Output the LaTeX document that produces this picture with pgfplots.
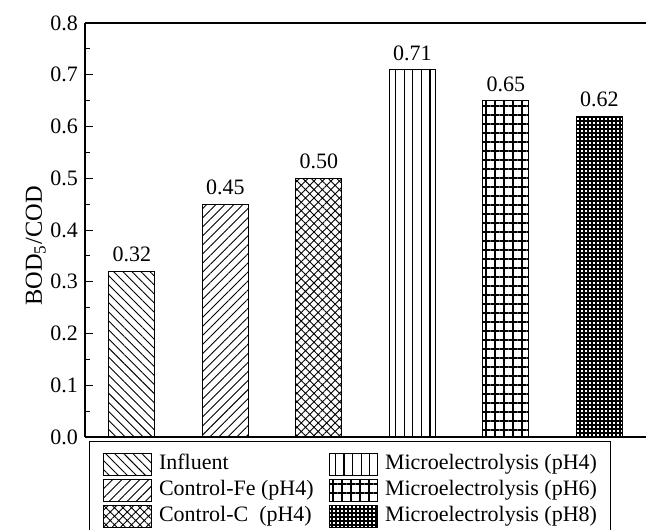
\documentclass[border=0pt]{standalone}
\usepackage{fontspec}
\setmainfont{Liberation Serif}
\usepackage{pgfplots}
\pgfplotsset{compat=1.18}
\usetikzlibrary{patterns,patterns.meta}

\tikzset{
  hatchNW/.style={pattern={Lines[angle=-45,distance=3.2pt,line width=0.45pt]}},
  hatchNE/.style={pattern={Lines[angle=45,distance=3.2pt,line width=0.45pt]}},
  hatchX/.style={pattern={Hatch[angle=45,distance=3pt,line width=0.45pt]}},
  hatchV/.style={pattern={Lines[angle=90,distance=4.3pt,line width=0.55pt]}},
  % grids are built from two crossing line patterns
  gridV/.style={pattern={Lines[angle=90,distance=4.5pt,line width=0.55pt]}},
  gridH/.style={pattern={Lines[angle=0,distance=4.5pt,line width=0.55pt]}},
  fineV/.style={pattern={Lines[angle=90,distance=2pt,line width=0.55pt]}},
  fineH/.style={pattern={Lines[angle=0,distance=2pt,line width=0.55pt]}},
}
% fixed-width first legend column
\newcommand{\colA}[1]{\hspace{3.5pt}\makebox[85pt][l]{#1}}
\newcommand{\colB}[1]{\hspace{3.5pt}#1\hspace{2.6pt}}

\begin{document}
\begin{tikzpicture}
\begin{axis}[
  name=ax,
  scale only axis,
  width=280.5pt, height=207pt,
  xmin=-0.5, xmax=5.5,
  ymin=0, ymax=0.8,
  ytick={0,0.1,...,0.8},
  minor y tick num=1,
  xtick=\empty,
  axis lines=left,
  axis line style={-, line width=0.6pt},
  tick style={black, line width=0.5pt},
  major tick length=4pt, minor tick length=2.5pt,
  tick align=inside,
  font=\fontsize{11}{13}\selectfont,
  /pgf/number format/assume math mode=true,
  yticklabel style={/pgf/number format/fixed, /pgf/number format/fixed zerofill, /pgf/number format/precision=1},
  ylabel={BOD\textsubscript{5}/COD},
  ylabel style={font=\fontsize{12.2}{14}\selectfont, xshift=-8pt, yshift=-4.5pt},
  ybar, bar width=23pt, bar shift=0pt,
  nodes near coords,
  every node near coord/.append style={font=\fontsize{11}{13}\selectfont,
    /pgf/number format/fixed, /pgf/number format/fixed zerofill, /pgf/number format/precision=2,
    yshift=1pt},
  legend columns=2,
  legend cell align=left,
  legend style={at={(axis description cs:0.0068,-0.009)}, anchor=north west,
    draw=black, line width=0.5pt, font=\fontsize{11}{13}\selectfont,
    inner xsep=6.85pt, inner ysep=5.25pt,
    nodes={inner sep=0pt, text height=9pt, text depth=4pt},
    column sep=0pt, row sep=0pt},
  legend image code/.code={\draw[#1, line width=0.5pt] (0pt,-5.5pt) rectangle (24pt,5.5pt);},
]
% bars, one series per treatment
\addplot[draw=black, line width=0.5pt, hatchNW, forget plot] coordinates {(0,0.32)};
\addplot[draw=black, line width=0.5pt, hatchNE, forget plot] coordinates {(1,0.45)};
\addplot[draw=black, line width=0.5pt, hatchX, forget plot] coordinates {(2,0.50)};
\addplot[draw=black, line width=0.5pt, hatchV, forget plot] coordinates {(3,0.71)};
\addplot[draw=black, line width=0.5pt, gridV, forget plot] coordinates {(4,0.65)};
\addplot[draw=black, line width=0.5pt, gridH, forget plot, nodes near coords={}] coordinates {(4,0.65)};
\addplot[draw=black, line width=0.5pt, fineV, forget plot] coordinates {(5,0.62)};
\addplot[draw=black, line width=0.5pt, fineH, forget plot, nodes near coords={}] coordinates {(5,0.62)};
% legend entries, listed row by row
\addlegendimage{draw=black, hatchNW}
\addlegendentry{\colA{Influent}}
\addlegendimage{draw=black, hatchV}
\addlegendentry{\colB{Microelectrolysis (pH4)}}
\addlegendimage{draw=black, hatchNE}
\addlegendentry{\colA{Control-Fe (pH4)}}
\addlegendimage{legend image code/.code={
  \path[gridV] (0pt,-5.5pt) rectangle (24pt,5.5pt);
  \draw[gridH, line width=0.5pt] (0pt,-5.5pt) rectangle (24pt,5.5pt);}}
\addlegendentry{\colB{Microelectrolysis (pH6)}}
\addlegendimage{draw=black, hatchX}
\addlegendentry{\colA{Control-C\ \ (pH4)}}
\addlegendimage{legend image code/.code={
  \path[fineV] (0pt,-5.5pt) rectangle (24pt,5.5pt);
  \draw[fineH, line width=0.5pt] (0pt,-5.5pt) rectangle (24pt,5.5pt);}}
\addlegendentry{\colB{Microelectrolysis (pH8)}}
\end{axis}
\draw[line width=0.6pt] (ax.north west) -- (ax.north east);
\pgfresetboundingbox
\path[use as bounding box] ([xshift=-42.5pt,yshift=-46pt]ax.south west) rectangle ([yshift=11.5pt]ax.north east);
\end{tikzpicture}
\end{document}
